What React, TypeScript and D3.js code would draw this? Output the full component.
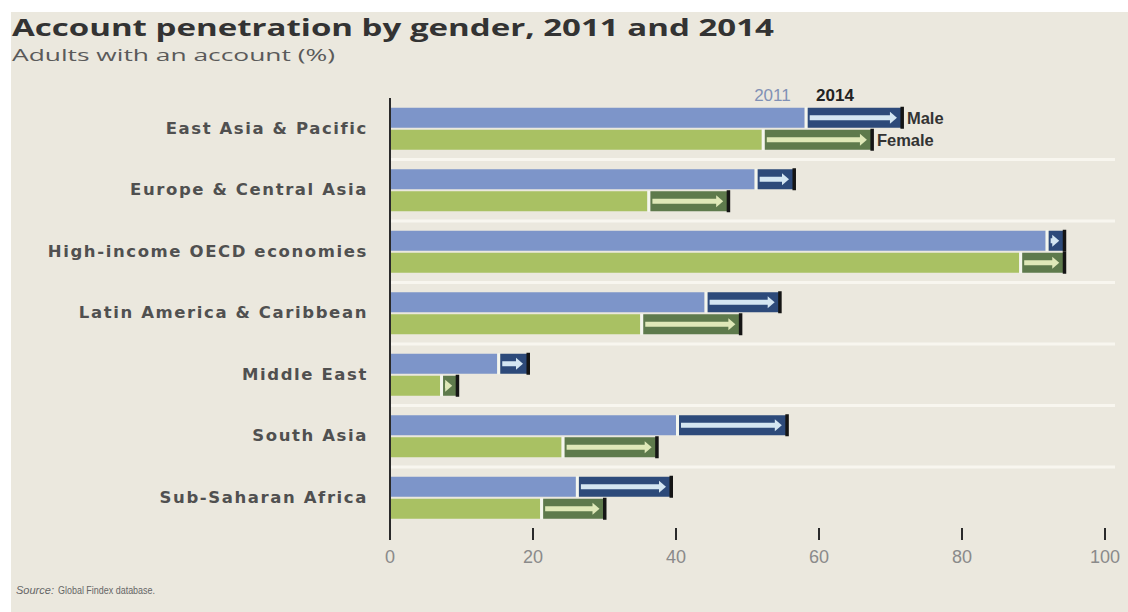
import React from "react";
import * as d3 from "d3";

const categories = [
  "East Asia & Pacific",
  "Europe & Central Asia",
  "High-income OECD economies",
  "Latin America & Caribbean",
  "Middle East",
  "South Asia",
  "Sub-Saharan Africa",
];
const male2011 = [58, 51, 91.7, 44, 15, 40, 26];
const male2014 = [71.6, 56.5, 94.3, 54.5, 19.3, 55.5, 39.3];
const female2011 = [52, 36, 88, 35, 7, 24, 21];
const female2014 = [67.4, 47.3, 94.3, 49, 9.4, 37.3, 30];
const xTicks = [0, 20, 40, 60, 80, 100];

const W = 1128;
const H = 612;
const BG = "#ebe8de";

export default function App() {
  const x = d3.scaleLinear().domain([0, 100]).range([390, 1105]);
  const y = d3.scaleBand().domain(categories).range([98, 528.5]).padding(0);
  const step = y.step();
  const barH = 20;

  const series = [
    { key: "m", v0: male2011, v1: male2014, base: "#7d95c9", inc: "#2d4a7a", arrow: "#d4e6f2", dy: -21 },
    { key: "f", v0: female2011, v1: female2014, base: "#a9c163", inc: "#5e7a4c", arrow: "#dfe8b8", dy: 1 },
  ];

  return (
    <div style={{ position: "absolute", left: 0, top: 0, width: W, height: H }}>
      <svg width={W} height={H} style={{ display: "block" }}>
        <rect x={0} y={0} width={W} height={H} fill="#ffffff" />
        <rect x={11} y={12} width={W - 11} height={H - 12} fill={BG} />

        <text x={12} y={36} fontFamily="'Open Sans', sans-serif" fontWeight={700} fontSize={24} fill="#333"
          textLength={762} lengthAdjust="spacingAndGlyphs">
          Account penetration by gender, 2011 and 2014
        </text>
        <text x={12} y={61} fontFamily="'Open Sans', sans-serif" fontSize={17} fill="#5a5a5a"
          textLength={323} lengthAdjust="spacingAndGlyphs">
          Adults with an account (%)
        </text>

        {/* group separators */}
        {categories.slice(1).map((c) => (
          <line key={"sep" + c} x1={391} x2={1115} y1={y(c)!} y2={y(c)!} stroke="#f8f6ef" strokeWidth={3} />
        ))}

        {/* category labels */}
        {categories.map((c) => (
          <text key={"lab" + c} x={368} y={y(c)! + step / 2 + 5} textAnchor="end"
            fontFamily="'DejaVu Sans', sans-serif" fontWeight={700} fontSize={16.5} fill="#505050" letterSpacing={1.6}>
            {c}
          </text>
        ))}

        {/* bars */}
        {categories.map((c, i) => {
          const cy = y(c)! + step / 2;
          return series.map((s) => {
            const top = cy + s.dy;
            const x0 = x(0);
            const xa = x(s.v0[i]);
            const xb = x(s.v1[i]);
            const mid = top + barH / 2;
            const arrowStart = xa + 5;
            const arrowEnd = xb - 5;
            const head = Math.min(7, Math.max(3, arrowEnd - arrowStart));
            return (
              <g key={c + s.key}>
                <rect x={x0} y={top} width={xa - x0} height={barH} fill={s.base} />
                <rect x={xa} y={top - 0.5} width={3} height={barH + 1} fill="#f4f6ee" />
                <rect x={xa + 3} y={top} width={Math.max(0, xb - xa - 3)} height={barH} fill={s.inc} />
                {arrowEnd - arrowStart > 2 && (
                  <>
                    <rect x={arrowStart} y={mid - 2.5} width={Math.max(0, arrowEnd - arrowStart - head + 1)} height={5} fill={s.arrow} />
                    <path d={`M${arrowEnd - head},${mid - 6}L${arrowEnd},${mid}L${arrowEnd - head},${mid + 6}Z`} fill={s.arrow} />
                  </>
                )}
                <rect x={xb - 1.5} y={top - 1} width={3.5} height={barH + 2} fill="#151515" />
              </g>
            );
          });
        })}

        {/* legend */}
        <text x={x(male2011[0]) - 14} y={101} textAnchor="end" fontFamily="'Liberation Sans Narrow', 'Liberation Sans', sans-serif"
          fontSize={17} fill="#8191b5">2011</text>
        <text x={x(male2014[0]) - 48} y={101} textAnchor="end" fontFamily="'Liberation Sans Narrow', 'Liberation Sans', sans-serif"
          fontWeight={700} fontSize={17} fill="#222">2014</text>
        <text x={x(male2014[0]) + 5} y={y(categories[0])! + step / 2 - 5} fontFamily="'Liberation Sans', sans-serif"
          fontWeight={700} fontSize={16.5} fill="#333">Male</text>
        <text x={x(female2014[0]) + 5} y={y(categories[0])! + step / 2 + 17} fontFamily="'Liberation Sans', sans-serif"
          fontWeight={700} fontSize={16.5} fill="#333">Female</text>

        {/* axis */}
        <line x1={x(0)} x2={x(0)} y1={98} y2={540} stroke="#2a2a2a" strokeWidth={2} />
        {xTicks.map((t) => (
          <g key={"t" + t}>
            {t !== 0 && <line x1={x(t)} x2={x(t)} y1={528} y2={540} stroke="#2a2a2a" strokeWidth={2} />}
            <text x={x(t)} y={563} textAnchor="middle" fontFamily="'Liberation Sans Narrow', 'Liberation Sans', sans-serif"
              fontSize={18} fill="#8a8a8a">{t}</text>
          </g>
        ))}

        <text x={16} y={594} fontFamily="'Liberation Sans', sans-serif" fontSize={11.5} fill="#666" fontStyle="italic"
          textLength={38} lengthAdjust="spacingAndGlyphs">Source:</text>
        <text x={58} y={594} fontFamily="'Liberation Sans', sans-serif" fontSize={11.5} fill="#666"
          textLength={97} lengthAdjust="spacingAndGlyphs">Global Findex database.</text>
      </svg>
    </div>
  );
}
